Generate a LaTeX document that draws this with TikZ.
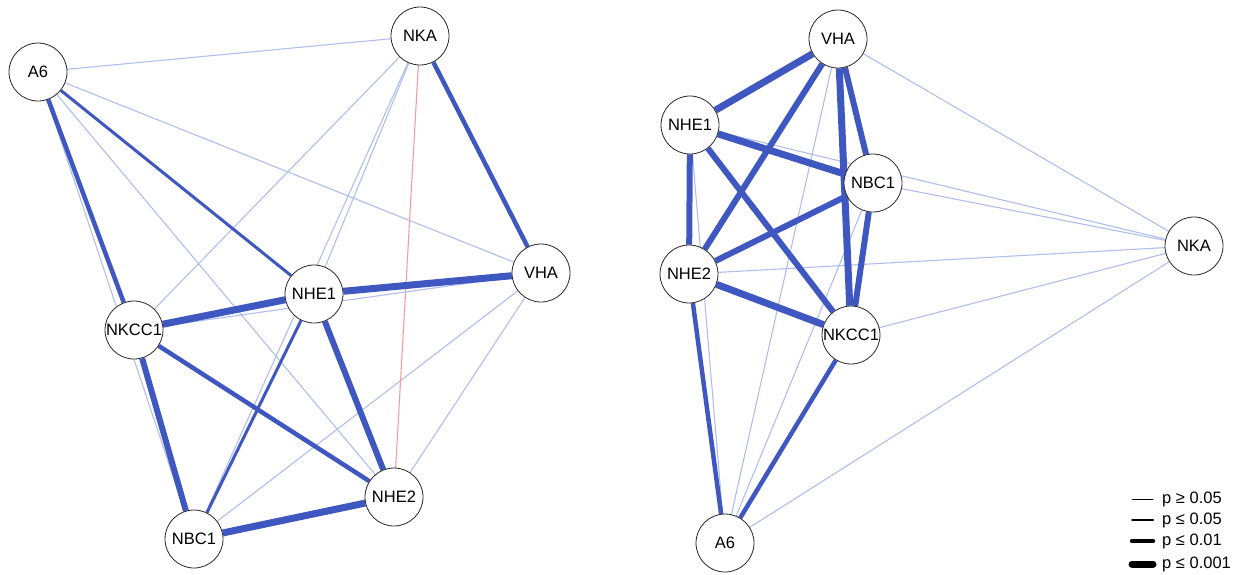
\documentclass[tikz,border=0pt]{standalone}
\usepackage{fontspec}
\setmainfont{Liberation Sans}
\pgfdeclarelayer{bg}
\pgfsetlayers{bg,main}
\definecolor{edark}{RGB}{63,87,192}
\definecolor{elight}{RGB}{175,190,238}
\definecolor{ered}{RGB}{238,160,160}
\tikzset{
  gene/.style={circle, draw={rgb,255:red,40;green,40;blue,40}, line width=0.8pt, fill=white, minimum size=58pt, inner sep=0pt, font=\fontsize{16.5}{18}\selectfont},
  wlight/.style={draw=elight, line width=1.1pt},
  wred/.style={draw=ered, line width=1.1pt},
  wone/.style={draw=edark, line width=3pt},
  wtwo/.style={draw=edark, line width=4.5pt},
  wthree/.style={draw=edark, line width=6pt},
  wfour/.style={draw=edark, line width=7pt},
  legline/.style={draw=black, line cap=round},
  legtext/.style={anchor=west, inner sep=0pt, font=\fontsize{16.5}{18}\selectfont},
}
\begin{document}
\begin{tikzpicture}[x=1pt,y=-1pt]
\useasboundingbox (0,0) rectangle (1246,574);
% ---------- left network ----------
\node[gene] (lA6) at (38,72) {A6};
\node[gene] (lNKA) at (420,36) {NKA};
\node[gene] (lVHA) at (541,273) {VHA};
\node[gene] (lNHE1) at (314,294) {NHE1};
\node[gene] (lNKCC1) at (134,330) {NKCC1};
\node[gene] (lNBC1) at (194,539) {NBC1};
\node[gene] (lNHE2) at (394,497) {NHE2};
% ---------- right network ----------
\node[gene] (rVHA) at (838,39) {VHA};
\node[gene] (rNHE1) at (690,125) {NHE1};
\node[gene] (rNBC1) at (873,183) {NBC1};
\node[gene] (rNHE2) at (689,274) {NHE2};
\node[gene] (rNKCC1) at (851,335) {NKCC1};
\node[gene] (rNKA) at (1194,246) {NKA};
\node[gene] (rA6) at (725,543) {A6};
\begin{pgfonlayer}{bg}
% left light edges
\draw[wlight] (lA6.center) -- (lNKA.center);
\draw[wlight] (lA6.center) -- (lVHA.center);
\draw[wlight] (lA6.center) -- (lNHE2.center);
\draw[wlight] (lA6.center) -- (lNBC1.center);
\draw[wlight] (lNKA.center) -- (lNHE1.center);
\draw[wlight] (lNKA.center) -- (lNBC1.center);
\draw[wlight] (lNKA.center) -- (lNKCC1.center);
\draw[wlight] (lVHA.center) -- (lNKCC1.center);
\draw[wlight] (lVHA.center) -- (lNBC1.center);
\draw[wlight] (lVHA.center) -- (lNHE2.center);
\draw[wred] (lNKA.center) -- (lNHE2.center);
% left dark edges
\draw[wone] (lA6) -- (lNHE1);
\draw[wone] (lNHE1) -- (lNBC1);
\draw[wtwo] (lA6) -- (lNKCC1);
\draw[wtwo] (lNKA) -- (lVHA);
\draw[wtwo] (lNKCC1) -- (lNHE2);
\draw[wthree] (lNHE1) -- (lNHE2);
\draw[wthree] (lNKCC1) -- (lNBC1);
\draw[wfour] (lNHE1) -- (lNKCC1);
\draw[wfour] (lNBC1) -- (lNHE2);
\draw[wfour] (lNHE1) -- (lVHA);
% right light edges
\draw[wlight] (rVHA.center) -- (rNKA.center);
\draw[wlight] (rVHA.center) -- (rA6.center);
\draw[wlight] (rNHE1.center) -- (rNKA.center);
\draw[wlight] (rNHE1.center) -- (rA6.center);
\draw[wlight] (rNBC1.center) -- (rNKA.center);
\draw[wlight] (rNBC1.center) -- (rA6.center);
\draw[wlight] (rNHE2.center) -- (rNKA.center);
\draw[wlight] (rNKCC1.center) -- (rNKA.center);
\draw[wlight] (rNKA.center) -- (rA6.center);
% right dark edges
\draw[wtwo] (rNHE2) -- (rA6);
\draw[wtwo] (rNKCC1) -- (rA6);
\draw[wthree] (rVHA) -- (rNHE2);
\draw[wthree] (rVHA) -- (rNBC1);
\draw[wthree] (rNHE1) -- (rNKCC1);
\draw[wthree] (rNHE1) -- (rNHE2);
\draw[wthree] (rNBC1) -- (rNHE2);
\draw[wthree] (rNBC1) -- (rNKCC1);
\draw[wfour] (rVHA) -- (rNHE1);
\draw[wfour] (rVHA) -- (rNKCC1);
\draw[wfour] (rNHE1) -- (rNBC1);
\draw[wfour] (rNHE2) -- (rNKCC1);
\end{pgfonlayer}
% ---------- legend ----------
\coordinate (la1) at (1132,499); \coordinate (lb1) at (1153,499);
\coordinate (la2) at (1132,520); \coordinate (lb2) at (1153,520);
\coordinate (la3) at (1132,541); \coordinate (lb3) at (1153,541);
\coordinate (la4) at (1132,564); \coordinate (lb4) at (1153,564);
\draw[legline, line width=0.7pt] (la1) -- (lb1);
\draw[legline, line width=2pt] (la2) -- (lb2);
\draw[legline, line width=4.5pt] (la3) -- (lb3);
\draw[legline, line width=7pt] (la4) -- (lb4);
\node[legtext] (t1) at (1162,499) {p ≥ 0.05};
\node[legtext] (t2) at (1162,520) {p ≤ 0.05};
\node[legtext] (t3) at (1162,541) {p ≤ 0.01};
\node[legtext] (t4) at (1162,564) {p ≤ 0.001};
\end{tikzpicture}
\end{document}
